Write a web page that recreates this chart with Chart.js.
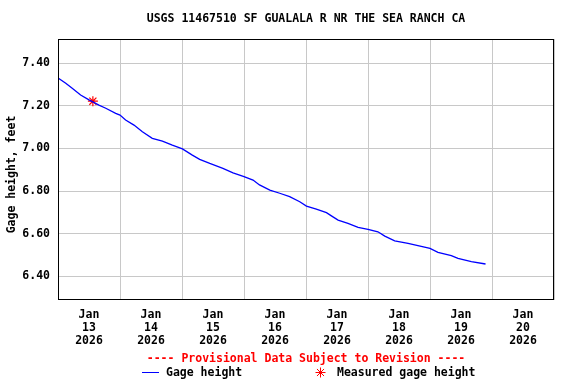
<!DOCTYPE html>
<html>
<head>
<meta charset="utf-8">
<script src="https://cdn.jsdelivr.net/npm/chart.js@4/dist/chart.umd.min.js"></script>
<style>
html,body{margin:0;padding:0;background:#fff;}
#wrap{width:576px;height:384px;position:relative;}
</style>
</head>
<body>
<div id="wrap"><canvas id="c" width="576" height="384"></canvas></div>
<script>
// ---- data ----
const chartTitle = 'USGS 11467510 SF GUALALA R NR THE SEA RANCH CA';
const yAxisTitle = 'Gage height, feet';
const monthLabel = 'Jan';
const yearLabel = '2026';
const dayLabels = ['13','14','15','16','17','18','19','20'];
const yTickValues = [6.40, 6.60, 6.80, 7.00, 7.20, 7.40];
const gageTimes = [
 '2026-01-13T00:10','2026-01-13T03:00','2026-01-13T05:30','2026-01-13T08:45','2026-01-13T12:00',
 '2026-01-13T15:50','2026-01-13T18:30','2026-01-13T22:20','2026-01-14T00:00','2026-01-14T02:10',
 '2026-01-14T05:25','2026-01-14T08:40','2026-01-14T12:30','2026-01-14T16:25','2026-01-14T20:15',
 '2026-01-15T00:10','2026-01-15T04:00','2026-01-15T06:50','2026-01-15T10:45','2026-01-15T15:50',
 '2026-01-15T19:45','2026-01-16T00:00','2026-01-16T03:30','2026-01-16T06:00','2026-01-16T10:00',
 '2026-01-16T13:50','2026-01-16T17:40','2026-01-16T21:35','2026-01-17T00:10','2026-01-17T04:00',
 '2026-01-17T07:55','2026-01-17T09:50','2026-01-17T12:25','2026-01-17T16:15','2026-01-17T20:10',
 '2026-01-18T00:00','2026-01-18T03:50','2026-01-18T06:30','2026-01-18T10:20','2026-01-18T15:30',
 '2026-01-18T19:20','2026-01-19T00:00','2026-01-19T03:05','2026-01-19T08:15','2026-01-19T10:50',
 '2026-01-19T16:00','2026-01-19T21:30'
];
const gageValues = [
 7.330, 7.306, 7.283, 7.251, 7.228,
 7.204, 7.189, 7.165, 7.157, 7.134,
 7.110, 7.079, 7.048, 7.035, 7.016,
 6.998, 6.969, 6.949, 6.930, 6.907,
 6.886, 6.868, 6.852, 6.829, 6.805,
 6.790, 6.774, 6.750, 6.730, 6.716,
 6.699, 6.684, 6.664, 6.649, 6.630,
 6.621, 6.609, 6.589, 6.567, 6.555,
 6.544, 6.531, 6.513, 6.497, 6.484,
 6.469, 6.458
];
const measuredTimes = ['2026-01-13T13:30'];
const measuredValues = [7.222];
const legendNote = '---- Provisional Data Subject to Revision ----';
const legendGage = 'Gage height';
const legendMeasured = 'Measured gage height';

// ---- helpers ----
const startMs = Date.parse('2026-01-13T00:00Z');
const toHours = s => (Date.parse(s + 'Z') - startMs) / 3600000;
const FONT = '"DejaVu Sans Mono", "Liberation Mono", monospace';

const gageData = gageTimes.map((t, i) => ({x: toHours(t), y: gageValues[i]}));
const measData = measuredTimes.map((t, i) => ({x: toHours(t), y: measuredValues[i]}));

const decor = {
  id: 'decor',
  afterDraw(chart) {
    const ctx = chart.ctx, a = chart.chartArea;
    ctx.save();
    // frame
    ctx.strokeStyle = '#000'; ctx.lineWidth = 1;
    ctx.strokeRect(Math.round(a.left) + 0.5, Math.round(a.top) + 0.5,
                   Math.round(a.right - a.left) - 1, Math.round(a.bottom - a.top) - 1);
    // title
    ctx.fillStyle = '#000';
    ctx.font = 'bold 11.5px ' + FONT;
    ctx.textAlign = 'center'; ctx.textBaseline = 'middle';
    ctx.fillText(chartTitle, (a.left + a.right) / 2, 19);
    // y axis title
    ctx.save();
    ctx.translate(12, (a.top + a.bottom) / 2 + 5);
    ctx.rotate(-Math.PI / 2);
    ctx.fillText(yAxisTitle, 0, 0);
    ctx.restore();
    // legend
    ctx.fillStyle = '#ff0000';
    ctx.fillText(legendNote, 306, 359);
    ctx.textAlign = 'left';
    ctx.fillStyle = '#000';
    ctx.fillText(legendGage, 166, 373);
    ctx.fillText(legendMeasured, 337, 373);
    ctx.strokeStyle = '#0000ff';
    ctx.beginPath(); ctx.moveTo(142, 372.5); ctx.lineTo(159, 372.5); ctx.stroke();
    ctx.strokeStyle = '#ff0000';
    const cx = 320.5, cy = 372.5, r = 5;
    ctx.beginPath();
    for (let k = 0; k < 4; k++) {
      const ang = k * Math.PI / 4;
      ctx.moveTo(cx - r * Math.cos(ang), cy - r * Math.sin(ang));
      ctx.lineTo(cx + r * Math.cos(ang), cy + r * Math.sin(ang));
    }
    ctx.stroke();
    ctx.restore();
  }
};

new Chart(document.getElementById('c'), {
  type: 'line',
  data: {
    datasets: [
      {
        label: legendGage,
        data: gageData,
        borderColor: '#0000ff',
        borderWidth: 1.3,
        pointRadius: 0,
        tension: 0,
        fill: false
      },
      {
        label: legendMeasured,
        data: measData,
        showLine: false,
        pointStyle: 'star',
        pointRadius: 5,
        borderColor: '#ff0000',
        backgroundColor: '#ff0000',
        pointBorderWidth: 1.2
      }
    ]
  },
  options: {
    responsive: false,
    animation: false,
    events: [],
    layout: { padding: { top: 39, right: 22, bottom: 0, left: 0 } },
    plugins: { legend: { display: false }, title: { display: false }, tooltip: { enabled: false } },
    scales: {
      x: {
        type: 'linear',
        min: 0, max: 192,
        afterBuildTicks: s => { s.ticks = []; for (let h = 0; h <= 192; h += 12) s.ticks.push({value: h}); },
        afterFit: s => { s.height = 84; },
        grid: {
          drawTicks: false,
          color: c => (c.tick && c.tick.value % 24 === 0) ? '#c8c8c8' : 'rgba(0,0,0,0)',
          lineWidth: 1
        },
        border: { display: false },
        ticks: {
          autoSkip: false,
          maxRotation: 0,
          padding: 9,
          color: '#000',
          font: { family: FONT, size: 11.5, weight: 'bold', lineHeight: 1.13 },
          callback: v => (v % 24 === 12) ? [monthLabel, dayLabels[Math.floor(v / 24)], yearLabel] : ''
        }
      },
      y: {
        type: 'linear',
        min: 6.289, max: 7.514,
        afterBuildTicks: s => { s.ticks = yTickValues.map(v => ({value: v})); },
        afterFit: s => { s.width = 58; },
        grid: { drawTicks: false, color: '#c8c8c8', lineWidth: 1 },
        border: { display: false },
        ticks: {
          padding: 8,
          color: '#000',
          font: { family: FONT, size: 11.5, weight: 'bold' },
          callback: v => Number(v).toFixed(2)
        }
      }
    }
  },
  plugins: [decor]
});
</script>
</body>
</html>
